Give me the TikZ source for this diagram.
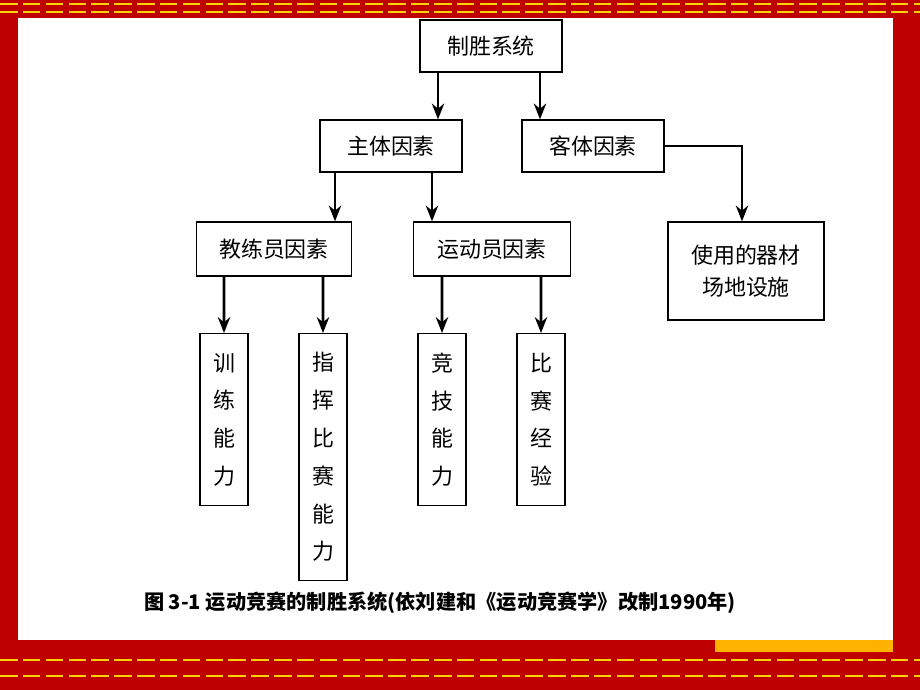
\documentclass[tikz,border=0pt]{standalone}
\usepackage{fontspec}
\setmainfont{Noto Sans CJK SC}
\usetikzlibrary{positioning,arrows.meta}

\begin{document}
\begin{tikzpicture}[
  x=0.02cm, y=-0.02cm,
  box/.style={rectangle, draw, line width=0.7pt, inner sep=0pt, align=center, font=\fontsize{12.5}{18}\selectfont},
  vbox/.style={box, minimum width=0.96cm, anchor=north, font=\fontsize{12.5}{21.5}\selectfont},
  arr/.style={-{Stealth[length=9pt,width=7pt]}, line width=1.6pt}
]
\useasboundingbox (0,0) rectangle (920,690);

% slide frame
\fill[red!75!black] (0,0) rectangle (920,690);
\foreach \y in {4,12,660,676} {
  \draw[yellow!70!orange, line width=1pt, dash pattern=on 10pt off 3pt] (0,\y) -- (920,\y);
}
\fill[orange!60!yellow] (715,600) rectangle (893,652);
\fill[white] (18,18) rectangle (893,640);

% level 0 and 1
\node[box, minimum width=2.84cm, minimum height=1.04cm] (System) at (491,46) {制胜系统};
\node[box, minimum width=2.84cm, minimum height=1.04cm] (Subject) at (391,146) {主体因素};
\node[box, minimum width=2.84cm, minimum height=1.04cm] (Object) at (593,146) {客体因素};

% level 2
\node[box, minimum width=3.1cm, minimum height=1.08cm] (Coach) at (274,249) {教练员因素};
\node[box, minimum width=3.14cm, minimum height=1.08cm] (Athlete) at (492,249) {运动员因素};
\node[box, minimum width=3.12cm, minimum height=1.96cm] (Facility) at (746,271) {使用的器材\\场地设施};

% level 3
\node[vbox, minimum height=3.44cm] (Training) at (224,333) {训\\练\\能\\力};
\node[vbox, minimum height=4.94cm] (Command) at (323,333) {指\\挥\\比\\赛\\能\\力};
\node[vbox, minimum height=3.44cm] (Skill) at (442,333) {竞\\技\\能\\力};
\node[vbox, minimum height=3.44cm] (Experience) at (541,333) {比\\赛\\经\\验};

% caption
\node[font=\fontsize{11.5}{14}\selectfont\bfseries] (Caption) at (440,603) {图 3-1 运动竞赛的制胜系统(依刘建和《运动竞赛学》改制1990年)};

% connectors
\draw[arr] ([xshift=-1.06cm]System.south) -- ([xshift=-1.06cm]System.south |- Subject.north);
\draw[arr] ([xshift=0.98cm]System.south) -- ([xshift=0.98cm]System.south |- Object.north);
\draw[arr] ([xshift=-1.12cm]Subject.south) -- ([xshift=-1.12cm]Subject.south |- Coach.north);
\draw[arr] ([xshift=0.82cm]Subject.south) -- ([xshift=0.82cm]Subject.south |- Athlete.north);
\draw[arr] (Object.east) -| ([xshift=-0.08cm]Facility.north);
\draw[arr] ([xshift=-1cm]Coach.south) -- (Training.north);
\draw[arr] ([xshift=0.98cm]Coach.south) -- (Command.north);
\draw[arr] ([xshift=-1cm]Athlete.south) -- (Skill.north);
\draw[arr] ([xshift=0.98cm]Athlete.south) -- (Experience.north);

\end{tikzpicture}
\end{document}
